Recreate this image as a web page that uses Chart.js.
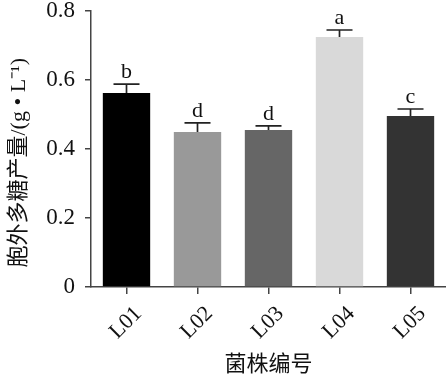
<!DOCTYPE html>
<html>
<head>
<meta charset="utf-8">
<script src="https://cdn.jsdelivr.net/npm/chart.js@4/dist/chart.umd.min.js"></script>
<style>
  html, body { margin: 0; padding: 0; background: #fff; }
  canvas { display: block; }
</style>
</head>
<body>
<canvas id="chart" width="446" height="381"></canvas>
<script>
// 菌株 / 产量 / 误差 / 显著性字母
const strains = ['L01', 'L02', 'L03', 'L04', 'L05'];
const yields = [0.562, 0.449, 0.455, 0.725, 0.496];
const errors = [0.026, 0.027, 0.012, 0.020, 0.020];
const letters = ['b', 'd', 'd', 'a', 'c'];
const barColors = ['#000000', '#999999', '#666666', '#d9d9d9', '#333333'];
const yTicks = [0, 0.2, 0.4, 0.6, 0.8];

const serif = '"Liberation Serif", "Times New Roman", serif';
const axisColor = '#444';

// 误差线 + 字母
const errorBars = {
    id: 'errorBars',
    afterDatasetsDraw(chart) {
        const ctx = chart.ctx;
        const meta = chart.getDatasetMeta(0);
        const y = chart.scales.y;
        ctx.save();
        ctx.strokeStyle = '#222';
        ctx.lineWidth = 1.7;
        ctx.fillStyle = '#111';
        ctx.font = '22px ' + serif;
        ctx.textAlign = 'center';
        ctx.textBaseline = 'alphabetic';
        meta.data.forEach((bar, i) => {
            const top = y.getPixelForValue(yields[i] + errors[i]);
            const base = y.getPixelForValue(yields[i]);
            ctx.beginPath();
            ctx.moveTo(bar.x, base);
            ctx.lineTo(bar.x, top);
            ctx.moveTo(bar.x - 13, top);
            ctx.lineTo(bar.x + 13, top);
            ctx.stroke();
            ctx.fillText(letters[i], bar.x, top - 6);
        });
        ctx.restore();
    }
};

new Chart(document.getElementById('chart'), {
    type: 'bar',
    data: {
        labels: strains,
        datasets: [{
            data: yields,
            backgroundColor: barColors,
            borderWidth: 0,
            barPercentage: 0.667,
            categoryPercentage: 1
        }]
    },
    options: {
        responsive: false,
        animation: false,
        layout: { padding: { top: 11, right: 0, left: 0, bottom: 0 } },
        plugins: { legend: { display: false }, tooltip: { enabled: false } },
        scales: {
            x: {
                grid: { display: true, drawOnChartArea: false, offset: false, tickLength: 7, color: axisColor, lineWidth: 1.5 },
                border: { color: axisColor, width: 1.5 },
                ticks: { color: '#111', font: { family: serif, size: 22 }, minRotation: 45, maxRotation: 45, labelOffset: 12, padding: 7 },
                title: { display: true, text: '菌株编号', color: '#111', font: { family: '"Noto Sans CJK SC"', size: 22 }, padding: { top: 0, bottom: 5 } },
                afterFit(scale) { scale.height = 94; scale.paddingTop = 0; scale.paddingBottom = 0; }
            },
            y: {
                min: 0,
                max: 0.8,
                afterBuildTicks(scale) { scale.ticks = yTicks.map(v => ({ value: v })); },
                grid: { display: true, drawOnChartArea: false, tickLength: 6, color: axisColor, lineWidth: 1.5 },
                border: { color: axisColor, width: 1.5 },
                ticks: { color: '#111', font: { family: serif, size: 23 }, padding: 10, callback: v => String(v) },
                title: { display: true, text: '胞外多糖产量/(g • L⁻¹)　 ', color: '#111', font: { family: serif + ', "Noto Sans CJK SC"', size: 22 }, padding: { top: 6, bottom: 0 } },
                afterFit(scale) { scale.width = 91; scale.paddingTop = 0; scale.paddingBottom = 0; }
            }
        }
    },
    plugins: [errorBars]
});
</script>
</body>
</html>
